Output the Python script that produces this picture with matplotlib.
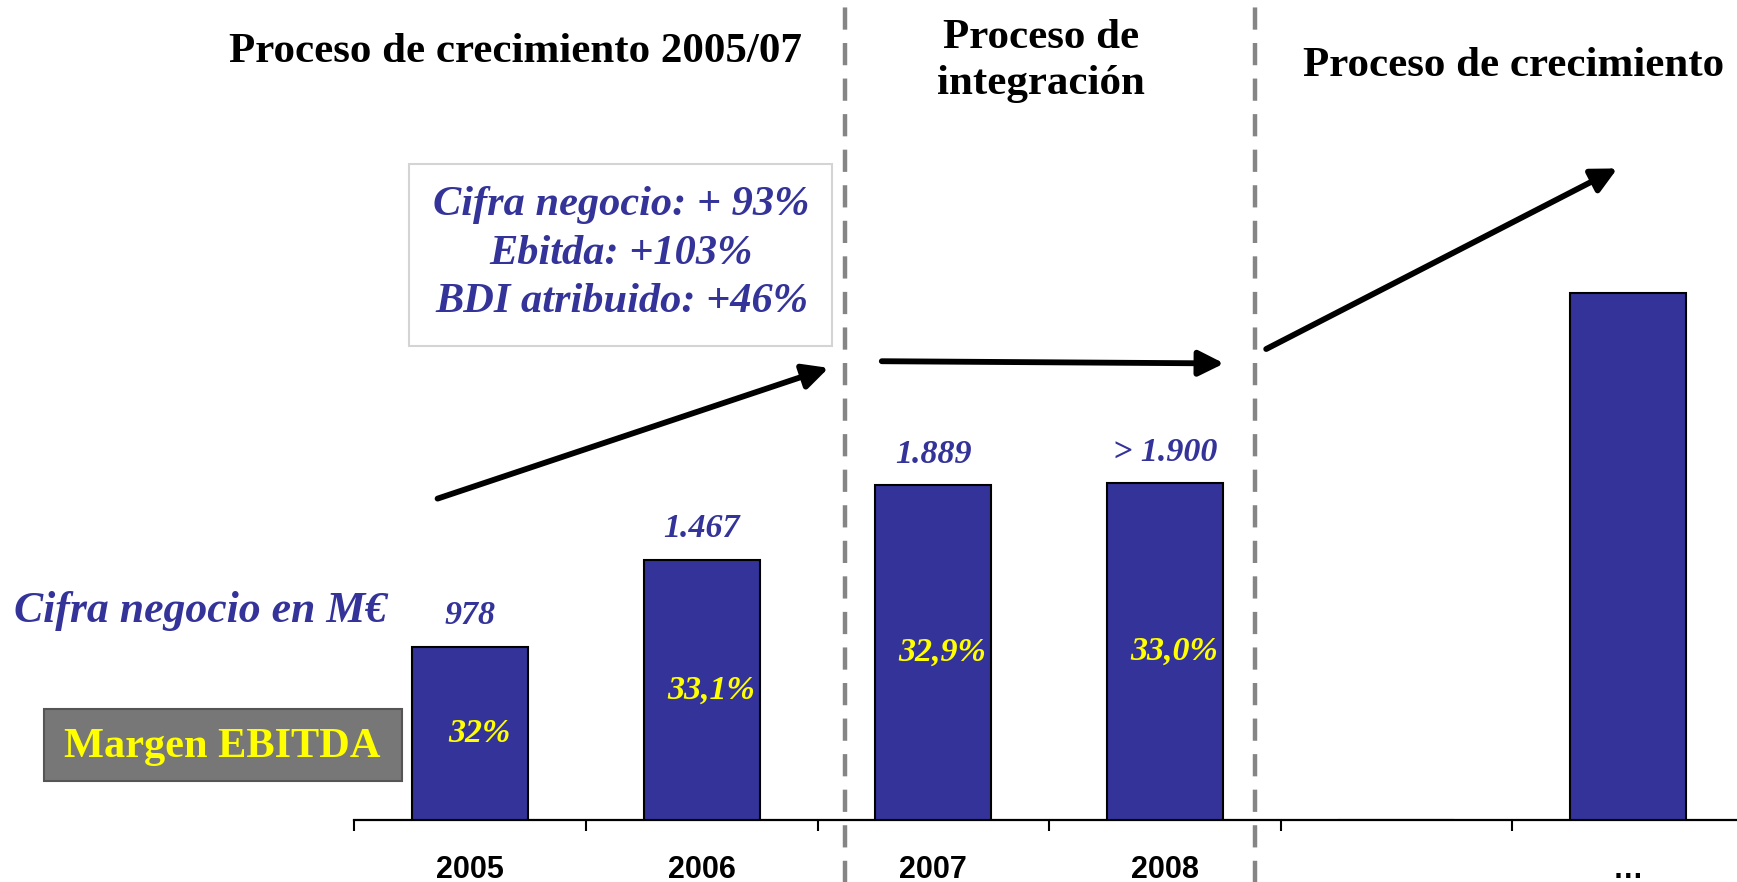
#!/usr/bin/env python3

import matplotlib.pyplot as plt
from matplotlib.patches import Rectangle, FancyArrowPatch

# data
categories = ["2005", "2006", "2007", "2008", "", "…"]
sales = [978, 1467, 1889, 1900, 0, 2970]
sales_labels = ["978", "1.467", "1.889", "> 1.900", "", ""]
ebitda_margin = ["32%", "33,1%", "32,9%", "33,0%", "", ""]
dividers = [1.62, 3.39]
growth_lines = ["Cifra negocio: + 93%", "Ebitda: +103%", "BDI atribuido: +46%"]

BLUE = "#333399"
YELLOW = "#ffff00"
SERIF = "Liberation Serif"
SANS = "Liberation Sans"

W, H = 1568, 796  # coordinate frame the layout was measured in


def fx(x):
    return x / W


def fy(y):
    return 1 - y / H


fig = plt.figure(figsize=(17.37, 8.82), dpi=100)
ax = fig.add_axes([fx(320), 56 / H, 6 * 209 / W, 1 - 56 / H])

xs = list(range(len(categories)))
ax.bar(xs, sales, width=0.5, color=BLUE, edgecolor="black", linewidth=1.5, zorder=3)
ax.set_xlim(-0.5, 5.5)
ax.set_ylim(0, 4625)

for spine in ["top", "right", "left"]:
    ax.spines[spine].set_visible(False)
ax.spines["bottom"].set_linewidth(1.6)
ax.set_yticks([])
ax.set_xticks(xs)
ax.set_xticklabels(categories, fontfamily=SANS, fontweight="bold", fontsize=22)
ax.tick_params(axis="x", which="major", length=0, pad=25)
ax.set_xticks([i - 0.5 for i in range(len(categories) + 1)], minor=True)
ax.tick_params(axis="x", which="minor", length=8, width=1.5, direction="out")
ax.patch.set_alpha(0)

for x, v, lab, m in zip(xs, sales, sales_labels, ebitda_margin):
    if lab:
        ax.text(x, v + 175, lab, ha="center", va="center", color=BLUE,
                fontfamily=SERIF, fontweight="bold", fontstyle="italic", fontsize=24.5)
    if m:
        ax.text(x + 0.04, v / 2, m, ha="center", va="center", color=YELLOW,
                fontfamily=SERIF, fontweight="bold", fontstyle="italic", fontsize=24.5, zorder=4)

for d in dividers:
    ax.axvline(d, ymin=-0.08, ymax=1, color="#858585", linewidth=3.2,
               linestyle=(0, (5, 3)), clip_on=False, zorder=1)

# section headers
head = dict(ha="center", va="center", fontfamily=SERIF, fontweight="bold", fontsize=31)
fig.text(fx(465), fy(47), "Proceso de crecimiento 2005/07", **head)
fig.text(fx(940), fy(55), "Proceso de\nintegración", linespacing=1.3, **head)
fig.text(fx(1366), fy(60), "Proceso de crecimiento", **head)

# growth summary box
fig.patches.append(Rectangle((fx(369), fy(312)), fx(751) - fx(369), fy(148) - fy(312),
                             transform=fig.transFigure, facecolor="white",
                             edgecolor="#d4d4d4", linewidth=1.5, zorder=0))
fig.text(fx(561), fy(229), "\n".join(growth_lines), ha="center", va="center",
         color=BLUE, fontfamily=SERIF, fontweight="bold", fontstyle="italic",
         fontsize=30.5, linespacing=1.36)

fig.text(fx(13), fy(551), "Cifra negocio en M€", ha="left", va="center", color=BLUE,
         fontfamily=SERIF, fontweight="bold", fontstyle="italic", fontsize=31.5)

# EBITDA margin key
fig.patches.append(Rectangle((fx(40), fy(705)), fx(363) - fx(40), fy(640) - fy(705),
                             transform=fig.transFigure, facecolor="#777777",
                             edgecolor="#555555", linewidth=1.5))
fig.text(fx(201), fy(674), "Margen EBITDA", ha="center", va="center", color=YELLOW,
         fontfamily=SERIF, fontweight="bold", fontsize=30.5)

# trend arrows
arrows = [((395, 450), (748, 332)), ((796, 326), (1105, 328)), ((1143, 315), (1460, 152))]
for (x0, y0), (x1, y1) in arrows:
    fig.patches.append(FancyArrowPatch((fx(x0), fy(y0)), (fx(x1), fy(y1)),
                                       transform=fig.transFigure, arrowstyle="-|>",
                                       mutation_scale=38, linewidth=4.2, color="black",
                                       shrinkA=0, shrinkB=0))

fig.savefig("out.png", dpi=100, facecolor="white")
